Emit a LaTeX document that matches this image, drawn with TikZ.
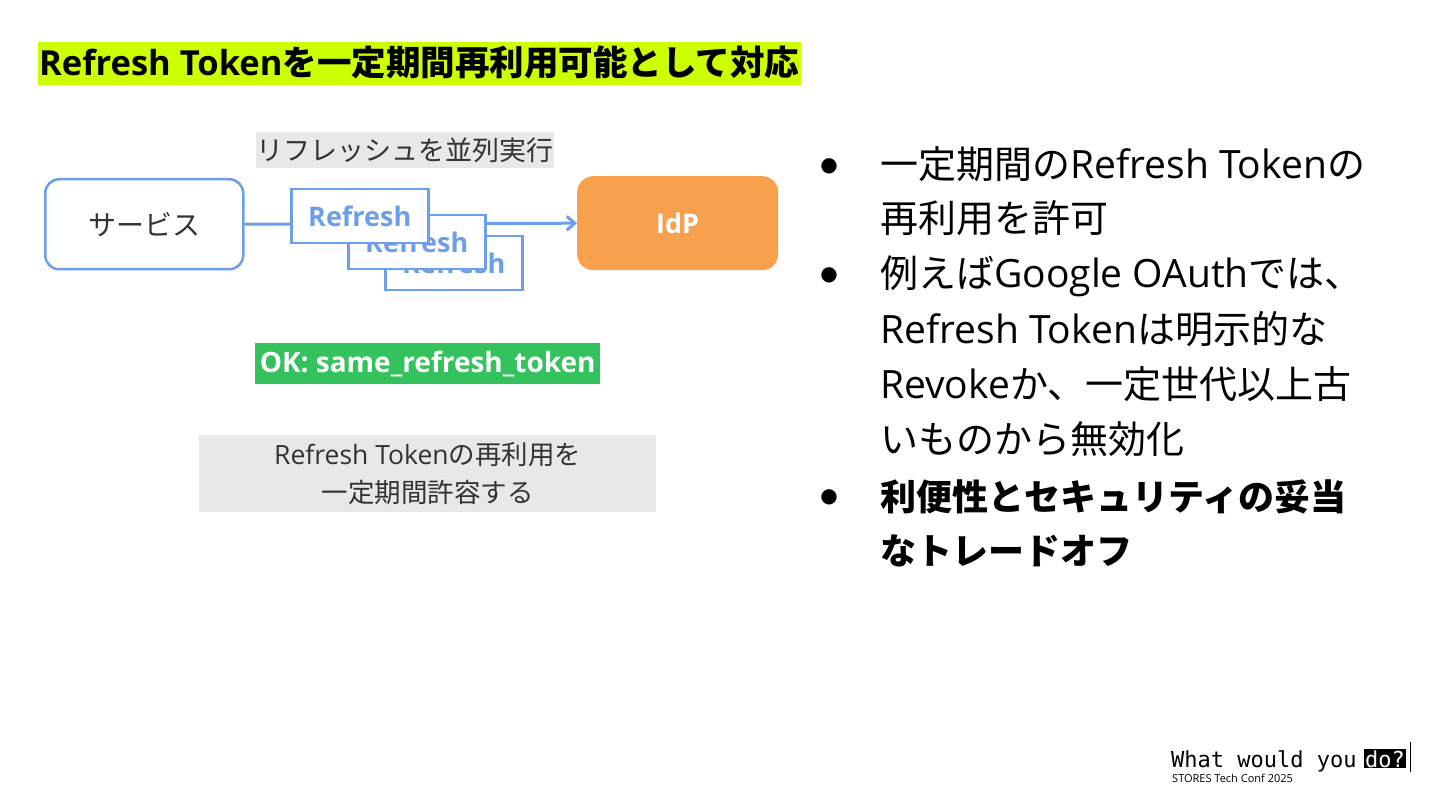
\documentclass[tikz,border=0pt]{standalone}
\usepackage{fontspec}
\usetikzlibrary{arrows.meta}
\newfontfamily\jp{Noto Sans CJK JP}
\newfontfamily\lat{Open Sans}
\newfontfamily\mono{DejaVu Sans Mono}
\newfontfamily\sym{DejaVu Sans}
\definecolor{lime}{HTML}{CCFF00}
\definecolor{sblue}{HTML}{6D9EEB}
\definecolor{sorange}{HTML}{F9A04D}
\definecolor{sgreen}{HTML}{33C25C}
\definecolor{sgray}{HTML}{E8E8E8}
\definecolor{dtext}{HTML}{333333}
\newcommand{\fs}[1]{\fontsize{#1}{#1}\selectfont}
\tikzset{
  refbox/.style={draw=sblue, line width=2.5pt, fill=white, minimum width=137pt, minimum height=54pt, inner sep=0pt, text=sblue, font=\lat\bfseries\fs{27}},
  bodyline/.style={anchor=base west, inner sep=0pt, font=\fs{38}},
  bul/.style={anchor=center, inner sep=0pt, font=\sym\fs{20}},
}
\begin{document}
\begin{tikzpicture}[x=1pt,y=-1pt]
\path[use as bounding box, fill=white] (0,0) rectangle (1440,810);
% title
\node[fill=lime, minimum width=763pt, minimum height=43pt, inner sep=0pt, anchor=north west] (titlebg) at (38,42) {};
\node[anchor=base west, inner sep=0pt, font=\bfseries\fs{34.5}] (title) at (39,76) {{\lat Refresh Token}{\jp を一定期間再利用可能として対応}};
% parallel label
\node[fill=sgray, minimum width=298pt, minimum height=36pt, inner sep=0pt, anchor=north west] (plbg) at (256,132) {};
\node[inner sep=0pt, text=dtext, font=\jp\fs{27}] (plabel) at (plbg.center) {リフレッシュを並列実行};
% service and IdP
\node[draw=sblue, line width=2.5pt, rounded corners=14pt, minimum width=198pt, minimum height=90pt, anchor=north west, fill=white, font=\jp\fs{28}, text=dtext] (svc) at (44,178) {サービス};
\node[fill=sorange, rounded corners=16pt, minimum width=201pt, minimum height=94pt, anchor=north west, font=\lat\bfseries\fs{27}, text=white] (idp) at (577,176) {IdP};
\draw[sblue, line width=3pt, -{Straight Barb[length=8pt,width=14pt,line width=3pt]}] (svc.east) -- (idp.west);
% refresh boxes
\node[refbox, anchor=north west] (r3) at (384,235) {Refresh};
\node[refbox, anchor=north west] (r2) at (347,214) {Refresh};
\node[refbox, anchor=north west] (r1) at (290,188) {Refresh};
% OK label
\node[fill=sgreen, minimum width=345pt, minimum height=41pt, inner sep=0pt, anchor=north west] (okbg) at (255,343) {};
\node[inner sep=0pt, text=white, font=\lat\bfseries\fs{28}] (ok) at (okbg.center) {OK: same\_refresh\_token};
% gray note
\node[fill=sgray, minimum width=457pt, minimum height=77pt, inner sep=0pt, anchor=north west] (notebg) at (199,435) {};
\node[inner sep=0pt, text=dtext, align=center, font=\fs{26.5}] (note) at (notebg.center) {{\lat Refresh Token}{\jp の再利用を}\\[12pt]{\jp 一定期間許容する}};
% right bullets
\node[bul] (b1) at (829,166) {●};
\node[bul] (b2) at (829,275) {●};
\node[bul] (b3) at (829,497) {●};
\node[bodyline] (l1) at (880,179) {{\jp 一定期間の}{\lat\fs{39}Refresh Token}{\jp の}};
\node[bodyline] (l2) at (880,233) {{\jp 再利用を許可}};
\node[bodyline] (l3) at (880,288) {{\jp 例えば}{\lat\fs{39}Google OAuth}{\jp では、}};
\node[bodyline] (l4) at (880,343) {{\lat\fs{39}Refresh Token}{\jp は明示的な}};
\node[bodyline] (l5) at (880,398) {{\lat\fs{39}Revoke}{\jp か、一定世代以上古}};
\node[bodyline] (l6) at (880,453) {{\jp いものから無効化}};
\node[bodyline, font=\fs{36}\bfseries] (l7) at (880,510) {{\jp 利便性とセキュリティの妥当}};
\node[bodyline, font=\fs{36}\bfseries] (l8) at (880,564) {{\jp なトレードオフ}};
% footer
\node[anchor=base west, inner sep=0pt, font=\mono\fs{22}] (wwy) at (1171,767) {What would you};
\node[anchor=base west, inner sep=1pt, fill=black, text=white, font=\mono\fs{22}] (do) at (1364,767) {do?};
\draw[black, line width=1pt] (1410,742) -- (1410,772);
\node[anchor=base west, inner sep=0pt, font=\lat\fs{11}] (conf) at (1172,782) {STORES Tech Conf 2025};
\end{tikzpicture}
\end{document}
